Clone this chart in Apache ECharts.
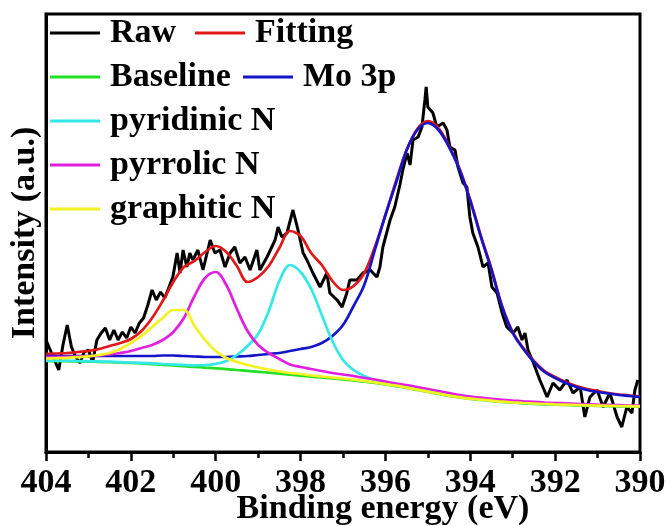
<!DOCTYPE html>
<html>
<head>
<meta charset="utf-8">
<script src="https://cdn.jsdelivr.net/npm/echarts@6/dist/echarts.min.js"></script>
<style>
  html, body { margin: 0; padding: 0; background: #fff; }
  #chart { width: 669px; height: 526px; }
</style>
</head>
<body>
<div id="chart"></div>
<script>
// N 1s / Mo 3p region: raw spectrum and peak-fit components (intensity in a.u.)

// Raw spectrum: binding energy (eV) and intensity
const rawBE = [
  404.0, 403.9, 403.8, 403.7, 403.6, 403.5, 403.4, 403.3, 403.2, 403.1,
  403.0, 402.9, 402.8, 402.7, 402.6, 402.5, 402.4, 402.3, 402.2, 402.1,
  402.0, 401.9, 401.8, 401.7, 401.6, 401.5, 401.4, 401.3, 401.2,
  401.01, 400.91, 400.84, 400.77, 400.68, 400.61, 400.54, 400.42, 400.30, 400.13,
  400.02, 399.90, 399.78, 399.66, 399.55, 399.43, 399.31, 399.19, 399.03, 398.96,
  398.79, 398.60, 398.53, 398.44, 398.32, 398.18, 398.06, 397.94, 397.85, 397.71,
  397.54, 397.38, 397.31, 397.14, 397.02, 396.91, 396.84, 396.67, 396.53, 396.36,
  396.20, 396.13, 396.06, 395.89, 395.78, 395.66, 395.59, 395.49, 395.42, 395.35,
  395.23, 395.14, 395.07, 395.04, 395.00, 394.88, 394.79, 394.64, 394.55, 394.48,
  394.36, 394.29, 394.17, 394.08, 394.01, 393.94, 393.82, 393.70, 393.58, 393.49,
  393.37, 393.25, 393.14, 392.99, 392.88, 392.78, 392.71, 392.64, 392.52, 392.45,
  392.36, 392.19, 392.05, 391.89, 391.72, 391.58, 391.41, 391.30, 391.18, 391.01,
  390.87, 390.71, 390.54, 390.43, 390.31, 390.19, 390.12, 390.05
];
const rawIntensity = [
  112, 102, 92, 82, 107, 127, 105, 95, 89, 100,
  102, 90, 112, 119, 124, 112, 122, 112, 120, 114,
  125, 119, 129, 134, 147, 162, 152, 160, 154,
  175, 199, 179, 202, 185, 199, 192, 202, 182, 212,
  199, 202, 185, 199, 205, 189, 195, 182, 202, 182,
  195, 212, 225, 215, 219, 242, 222, 199, 192, 179,
  165, 179, 159, 152, 145, 159, 172, 172, 179, 182,
  175, 185, 205, 232, 245, 267, 282, 299, 287, 312,
  315, 325, 352, 365, 345, 339, 325, 329, 322, 305,
  302, 285, 269, 265, 235, 219, 205, 185, 189, 165,
  159, 139, 125, 119, 125, 112, 119, 102, 90, 82,
  72, 55, 69, 62, 72, 59, 65, 35, 55, 62,
  45, 59, 35, 25, 45, 39, 62, 72
];

// Fit curves share one energy grid
const fitBE = [
  404, 403.75, 403.5, 403.25, 403, 402.75, 402.5, 402.25, 402, 401.75,
  401.5, 401.25, 401, 400.75, 400.5, 400.25, 400, 399.75, 399.5, 399.25,
  399, 398.75, 398.5, 398.25, 398, 397.75, 397.5, 397.25, 397, 396.75,
  396.5, 396.25, 396, 395.75, 395.5, 395.25, 395, 394.75, 394.5, 394.25,
  394, 393.75, 393.5, 393.25, 393, 392.75, 392.5, 392.25, 392, 391.75,
  391.5, 391.25, 391, 390.75, 390.5, 390.25, 390
];
const fitting = [
  98, 98.5, 99, 100, 101, 103, 106, 109, 113, 121,
  134, 151, 170, 185, 191, 200, 206, 200, 186, 170,
  175, 186, 204, 221, 216, 199, 187, 171, 162, 166,
  179, 205, 237, 271, 302, 323, 331, 324, 306, 283,
  252, 216, 183, 146, 120, 104, 91, 81, 75, 70,
  66, 63, 61, 59, 57.5, 56.5, 55.5
];
const baseline = [
  91, 90.9, 90.8, 90.6, 90.4, 90.1, 89.8, 89.4, 89, 88.5,
  87.9, 87.2, 86.5, 85.8, 85.1, 84.4, 83.7, 82.9, 82, 81.1,
  80.2, 79.3, 78.4, 77.4, 76.4, 75.4, 74.5, 73.6, 72.6, 71.5,
  70.3, 69, 67.5, 65.8, 64, 62, 60, 58, 56, 54.5,
  53, 52, 51, 50, 49.3, 48.7, 48.2, 47.7, 47.3, 47,
  46.7, 46.4, 46.1, 45.9, 45.7, 45.5, 45.3
];
const mo3p = [
  96, 96, 96, 96, 96, 96, 96, 96, 96, 96,
  96, 96.5, 96.5, 96, 95.5, 95, 95, 95, 95.5, 96,
  97, 98, 99, 101, 103, 105, 109, 116, 127, 146,
  167, 202, 237, 269, 302, 322, 329, 322, 305, 282,
  251, 215, 182, 145, 119, 103, 90, 80, 74, 69,
  65, 62, 60, 58.5, 57, 56, 55
];
const pyridinicN = [
  91.4, 91.3, 91.2, 91.0, 90.8, 90.6, 90.3, 89.9, 89.5, 89.1,
  88.6, 88.0, 87.5, 87.0, 86.7, 87.0, 88.2, 91, 97, 106,
  118, 141, 171, 187, 180, 163, 137, 111, 92, 82,
  76, 72, 69, 67, 65, 63, 61, 59, 57, 55.2,
  53.6, 52.5, 51.5, 50.5, 49.8, 49.2, 48.7, 48.2, 47.8, 47.5,
  47.2, 46.9, 46.6, 46.4, 46.2, 46, 45.8
];
const pyrrolicN = [
  95, 95, 95.2, 95.4, 95.8, 96.5, 97.5, 99, 101, 104,
  107, 112, 120, 134, 156, 174, 180, 167, 143, 121,
  107, 99, 93, 87.5, 85, 83, 81, 79, 77.5, 76,
  74, 72.5, 70.5, 68.5, 67, 65, 63, 61, 59, 57,
  55.5, 54.3, 53.2, 52.2, 51.4, 50.7, 50.1, 49.5, 49, 48.6,
  48.2, 47.8, 47.4, 47.1, 46.8, 46.5, 46.3
];
const graphiticN = [
  93.5, 93.8, 94.2, 94.8, 95.6, 97, 99, 103, 109, 116,
  125, 134, 142, 142, 126, 112, 101, 94, 90, 87,
  84.5, 82.5, 80.5, 79, 78, 76.5, 75.5, 74.5, 73.5, 72.3,
  71, 69.6, 68, 66.3, 64.4, 62.4, 60.4, 58.4, 56.4, 54.8,
  53.3, 52.3, 51.3, 50.3, 49.6, 49, 48.5, 48, 47.6, 47.3,
  47, 46.7, 46.4, 46.2, 46, 45.8, 45.6
];

// X axis ticks (eV)
const xTicks = { min: 390, max: 404, step: 2 };

const serif = '"Times New Roman", "Liberation Serif", serif';
const pair = (xs, ys) => xs.map((x, i) => [x, ys[i]]);

const curves = [
  { name: 'Fitting', color: '#e01818', data: fitting },
  { name: 'Baseline', color: '#22e022', data: baseline },
  { name: 'Mo 3p', color: '#1414c8', data: mo3p },
  { name: 'pyridinic N', color: '#35e8e8', data: pyridinicN },
  { name: 'pyrrolic N', color: '#e020e0', data: pyrrolicN },
  { name: 'graphitic N', color: '#f2f222', data: graphiticN }
];

const series = [{
  name: 'Raw', type: 'line', color: '#000',
  data: pair(rawBE, rawIntensity),
  showSymbol: false, symbol: 'none',
  lineStyle: { width: 3, color: '#000' }
}].concat(curves.map(c => ({
  name: c.name, type: 'line', color: c.color,
  data: pair(fitBE, c.data),
  smooth: 0.35, showSymbol: false, symbol: 'none',
  lineStyle: { width: 2.7, color: c.color }
})));

const legendCommon = {
  padding: 0, icon: 'rect', itemWidth: 50, itemHeight: 3,
  selectedMode: false,
  textStyle: {
    fontFamily: serif, fontWeight: 'bold', fontSize: 34, color: '#000',
    lineHeight: 34, padding: [0, 0, 0, 5]
  }
};

const chart = echarts.init(document.getElementById('chart'), null, { renderer: 'canvas' });
chart.setOption({
  animation: false,
  backgroundColor: '#fff',
  grid: {
    left: 46, right: 29, top: 14, bottom: 74,
    outerBoundsMode: 'none', containLabel: false,
    show: true, borderColor: '#000', borderWidth: 3
  },
  legend: [
    Object.assign({ data: ['Raw', 'Baseline', 'pyridinic N', 'pyrrolic N', 'graphitic N'],
      orient: 'vertical', left: 50, top: 16, itemGap: 10 }, legendCommon),
    Object.assign({ data: ['Fitting'], left: 195, top: 16 }, legendCommon),
    Object.assign({ data: ['Mo 3p'], left: 243, top: 60 }, legendCommon)
  ],
  xAxis: {
    type: 'value', min: xTicks.min, max: xTicks.max, interval: xTicks.step,
    inverse: true,
    axisLine: { onZero: false, lineStyle: { color: '#000', width: 3 } },
    axisTick: { show: true, inside: false, length: 9, lineStyle: { color: '#000', width: 2.5 } },
    minorTick: { show: true, splitNumber: 2, length: 6, lineStyle: { color: '#000', width: 2.5 } },
    splitLine: { show: false },
    axisLabel: {
      margin: 14, showMinLabel: true, showMaxLabel: true, hideOverlap: false,
      fontFamily: serif, fontWeight: 'bold', fontSize: 34, color: '#000'
    },
    name: 'Binding energy (eV)', nameLocation: 'middle', nameGap: 40,
    nameMoveOverlap: false,
    nameTextStyle: {
      fontFamily: serif, fontWeight: 'bold', fontSize: 34, color: '#000',
      padding: [0, 0, 0, 80]
    }
  },
  yAxis: {
    type: 'value', min: 0, max: 438,
    axisLine: { show: true, lineStyle: { color: '#000', width: 3 } },
    axisTick: { show: false },
    axisLabel: { show: false },
    splitLine: { show: false },
    name: 'Intensity (a.u.)', nameLocation: 'middle', nameGap: 4,
    nameMoveOverlap: false,
    nameTextStyle: { fontFamily: serif, fontWeight: 'bold', fontSize: 34, color: '#000' }
  },
  series: series
});
</script>
</body>
</html>
